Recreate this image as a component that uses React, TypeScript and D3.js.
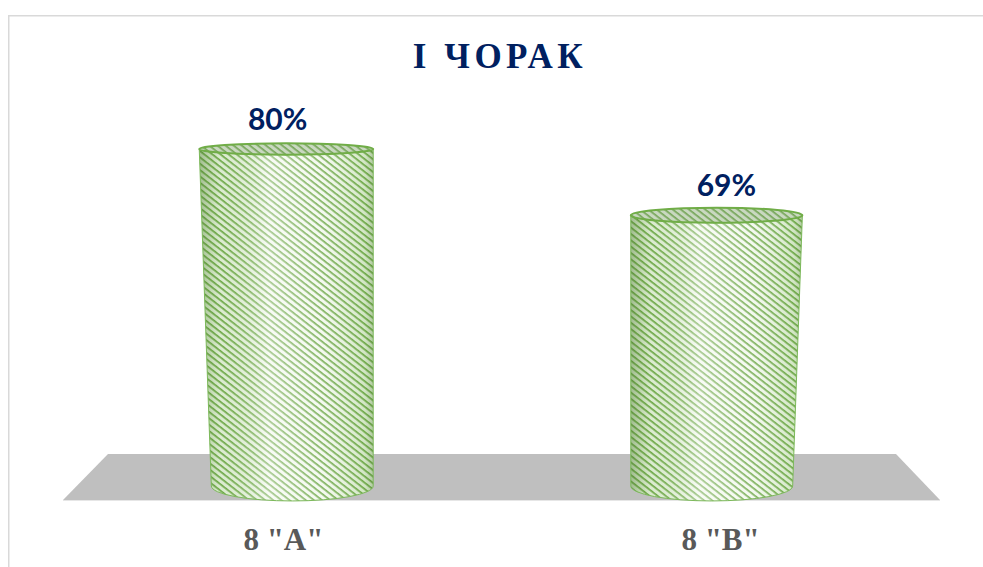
import React from "react";
import * as d3 from "d3";

// chart data
const categories = ['8 "A"', '8 "B"'];
const values = [80, 69];
const valueLabels = ["80%", "69%"];
const title = "І ЧОРАК";

const W = 983;
const H = 567;
const NAVY = "#002060";

// floor of the 3D plot (trapezoid)
const floor = { topY: 454, botY: 500, topL: 108, topR: 896, botL: 63, botR: 940 };

const x = d3.scaleBand<string>().domain(categories).range([64, 940]).padding(0.03);
const y = d3.scaleLinear().domain([24, 80]).range([486, 149]);
const mid = (x.range()[0] + x.range()[1]) / 2;

// simple perspective: things lower on the screen lean toward the middle and get rounder
const refY = y(80);
const cx = (c: number, yy: number) => mid + (c - mid) * (1 - (yy - refY) * 0.000083);
const rxAt = (yy: number) => 87 - (yy - refY) * 0.018;
const ryAt = (yy: number) => 1.6 + yy * 0.0275;

const cylinderSide = (c: number, v: number) => {
  const yt = y(v);
  const yb = y(y.domain()[0]);
  const ct = cx(c, yt), cb = cx(c, yb);
  const rt = rxAt(yt), rb = rxAt(yb);
  const et = ryAt(yt), eb = ryAt(yb);
  return `M${ct - rt},${yt} L${cb - rb},${yb} A${rb},${eb} 0 0 0 ${cb + rb},${yb} L${ct + rt},${yt} A${rt},${et} 0 0 1 ${ct - rt},${yt} Z`;
};

export default function App() {
  return (
    <svg width={W} height={H} style={{ position: "absolute", left: 0, top: 0, background: "#fff" }}>
      <defs>
        <pattern id="stripes" width="5" height="5" patternUnits="userSpaceOnUse" patternTransform="rotate(38)">
          <rect width="5" height="5" fill="#f3f9ee" />
          <rect width="5" height="1.7" fill="#6aa544" />
        </pattern>
        <linearGradient id="shade" x1="0" x2="1" y1="0" y2="0">
          <stop offset="0" stopColor="#4e7f2f" stopOpacity="0.5" />
          <stop offset="0.12" stopColor="#70ad47" stopOpacity="0.18" />
          <stop offset="0.4" stopColor="#ffffff" stopOpacity="0.4" />
          <stop offset="0.7" stopColor="#ffffff" stopOpacity="0.15" />
          <stop offset="0.95" stopColor="#70ad47" stopOpacity="0.25" />
          <stop offset="1" stopColor="#4e7f2f" stopOpacity="0.4" />
        </linearGradient>
      </defs>

      <rect x={8.75} y={15.75} width={990} height={560} fill="none" stroke="#d9d9d9" strokeWidth={1.5} />

      <text x={500} y={68} textAnchor="middle" fontFamily="'Liberation Serif', serif" fontWeight="bold"
        fontSize={35} letterSpacing={4.5} fill={NAVY}>{title}</text>

      <path
        d={`M${floor.topL},${floor.topY} L${floor.topR},${floor.topY} L${floor.botR},${floor.botY} L${floor.botL},${floor.botY} Z`}
        fill="#bfbfbf" />
      <line x1={floor.botL} x2={floor.botR} y1={floor.botY + 0.5} y2={floor.botY + 0.5} stroke="#e6e6e6" />

      {categories.map((cat, i) => {
        const c = x(cat)! + x.bandwidth() / 2;
        const v = values[i];
        const yt = y(v);
        const ct = cx(c, yt);
        const side = cylinderSide(c, v);
        return (
          <g key={cat}>
            <path d={side} fill="url(#stripes)" />
            <path d={side} fill="url(#shade)" stroke="#7cb95a" strokeWidth={1} />
            <ellipse cx={ct} cy={yt} rx={rxAt(yt)} ry={ryAt(yt)} fill="url(#stripes)" />
            <ellipse cx={ct} cy={yt} rx={rxAt(yt)} ry={ryAt(yt)} fill="#8aa87a" fillOpacity={0.4}
              stroke="#70ad47" strokeWidth={2} />
            <text x={mid + (c - mid) * 1.04} y={yt - 19} textAnchor="middle" fontFamily="Lato, sans-serif"
              fontWeight="bold" fontSize={30} fill={NAVY}>{valueLabels[i]}</text>
            <text x={mid + (c - mid) * 1.013} y={550} textAnchor="middle" fontFamily="'Liberation Serif', serif"
              fontWeight="bold" fontSize={31} fill="#595959">{cat}</text>
          </g>
        );
      })}
    </svg>
  );
}
